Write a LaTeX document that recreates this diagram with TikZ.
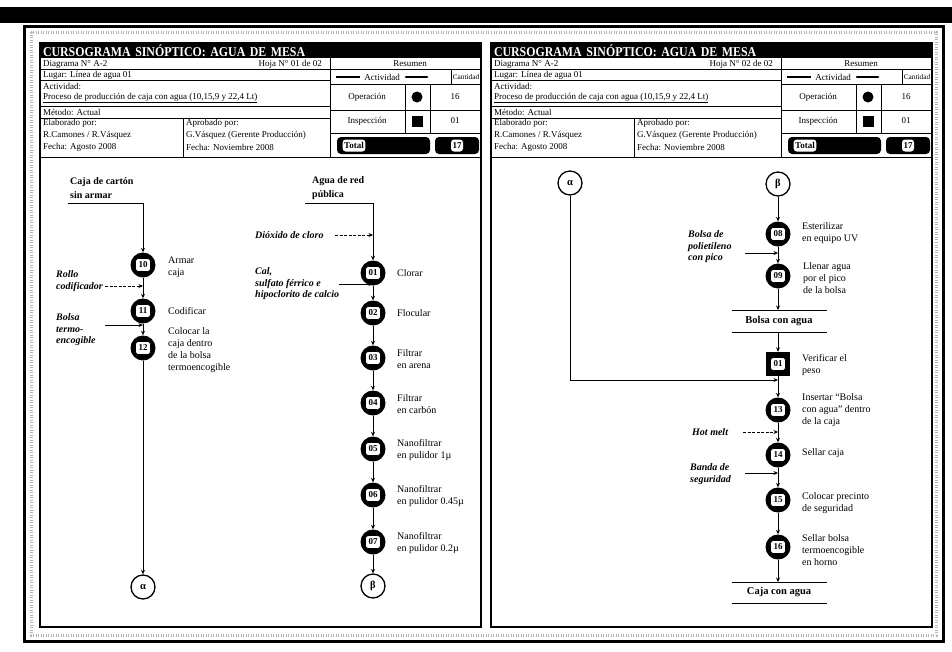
\documentclass[tikz,border=0pt]{standalone}
\usepackage{fontspec}
\setmainfont{Liberation Serif}
\newfontfamily\titlefont[FakeStretch=0.88]{Liberation Serif}
\usetikzlibrary{arrows.meta,calc}

\newcommand{\hdrblock}[1]{%
 \node[titlet] (title) at (40,43) {CURSOGRAMA SINÓPTICO: AGUA DE MESA};
 \draw[hl] (40,69.5) -- (481,69.5);
 \draw[hl] (40,80.5) -- (330,80.5);
 \draw[hl] (330,84) -- (481,84);
 \draw[hl] (40,106) -- (330,106);
 \draw[hl] (330,110) -- (481,110);
 \draw[hl] (40,118) -- (330,118);
 \draw[hl] (330,133) -- (481,133);
 \draw[hl] (40,157) -- (481,157);
 \draw[hl] (330,58) -- (330,157);
 \draw[hl] (183,118) -- (183,157);
 \draw[hl] (405,84) -- (405,133);
 \draw[hl] (430,84) -- (430,133);
 \draw[hl] (451,69.5) -- (451,84);
 \node[hdr] (dg) at (43,64) {Diagrama N° A-2};
 \node[hdr, anchor=east] (hj) at (322,64) {#1};
 \node[hdr, anchor=center] (rs) at (410,64) {Resumen};
 \node[hdr] (lg) at (43,75) {Lugar: Línea de agua 01};
 \node[hdr] (ac) at (43,86) {Actividad:};
 \node[hdr] (pr) at (43,98) {\underline{Proceso de producción de caja con agua (10,15,9 y 22,4 Lt)}};
 \node[hdr] (me) at (43,112) {Método: Actual};
 \node[hdr] (el) at (43,123) {Elaborado por:};
 \node[hdr] (rc) at (43,135) {R.Camones / R.Vásquez};
 \node[hdr] (fa) at (43,147) {Fecha: Agosto 2008};
 \node[hdr] (ap) at (186,123) {Aprobado por:};
 \node[hdr] (gv) at (186,135) {G.Vásquez (Gerente Producción)};
 \node[hdr] (fn) at (186,147) {Fecha: Noviembre 2008};
 \node[hdr, anchor=center] (av) at (382,77) {Actividad};
 \draw[line width=1.2pt] (336,77) -- (360,77);
 \draw[line width=2.5pt, line cap=round] (406,77) -- (427,77);
 \node[hdr, anchor=center, font=\fontsize{7.3}{8}\selectfont] (ct) at (466,77) {Cantidad};
 \node[hdr, anchor=center] (op) at (367,97) {Operación};
 \fill (417,97) circle (5.5pt);
 \node[hdr, anchor=center] (q1) at (455,97) {16};
 \node[hdr, anchor=center] (in) at (367,121) {Inspección};
 \fill (411.5,115.5) rectangle (422.5,126.5);
 \node[hdr, anchor=center] (q2) at (455,121) {01};
 \fill[rounded corners=4pt] (337,137) rectangle (430,154);
 \node[totb] (tt) at (354,145.5) {Total};
 \fill[rounded corners=4pt] (435,137) rectangle (479,154);
 \node[totb] (tn) at (457,145.5) {17};
 \draw[panel] (40,43) rectangle (481,627);
}

\begin{document}
\begin{tikzpicture}[x=1pt,y=-1pt,
 hl/.style={line width=0.8pt},
 panel/.style={line width=2pt},
 titlet/.style={fill=black, text=white, anchor=north west, minimum height=15pt, text height=13.5pt, text depth=1.5pt, text width=435pt, inner xsep=3pt, inner ysep=0pt, outer sep=0pt, align=left, font=\fontsize{13.5}{14}\titlefont\bfseries},
 hdr/.style={inner sep=0pt, anchor=west, font=\fontsize{9}{10}\selectfont},
 totb/.style={fill=white, rounded corners=3pt, inner sep=1.5pt, minimum height=12pt, font=\fontsize{9}{9}\selectfont\bfseries},
 desc/.style={inner sep=0pt, anchor=west, align=left, font=\fontsize{10}{12}\selectfont},
 inlab/.style={inner sep=0pt, anchor=west, align=left, font=\fontsize{10}{11.5}\selectfont\bfseries\itshape},
 boldlab/.style={inner sep=0pt, anchor=west, align=left, font=\fontsize{10}{14}\selectfont\bfseries},
 stlab/.style={inner sep=0pt, anchor=center, font=\fontsize{10.5}{12}\selectfont\bfseries},
 opc/.style={circle, fill=black, minimum size=25pt, inner sep=0pt},
 insq/.style={rectangle, fill=black, minimum size=24pt, inner sep=0pt},
 numb/.style={rectangle, rounded corners=3pt, fill=white, draw=black, line width=0.6pt, minimum width=15pt, minimum height=13pt, inner sep=0pt, font=\fontsize{9}{9}\selectfont\bfseries},
 conn/.style={circle, draw=black, line width=1.3pt, fill=white, minimum size=24pt, inner sep=0pt, font=\fontsize{10.5}{10.5}\selectfont\bfseries},
 arr/.style={line width=0.9pt, -{Stealth[length=4.5pt,width=4pt]}},
 darr/.style={arr, dash pattern=on 3pt off 1.5pt},
 ln/.style={line width=0.9pt}]
\useasboundingbox (0,0) rectangle (952,651);
\fill[white] (0,0) rectangle (952,651);
% outer frame
\fill[black] (0,7) rectangle (952,23);
\draw[line width=3pt] (24,26) rectangle (943,641);
\draw[gray!60, line width=3pt, dash pattern=on 1pt off 1.5pt] (31,32) rectangle (936,635);

% ================= LEFT PANEL =================
\begin{scope}[name prefix=L-]
\hdrblock{Hoja N° 01 de 02}
\end{scope}

% left column
\node[boldlab] (cajaT) at (70,188) {Caja de cartón\\sin armar};
\coordinate (cajaS) at (68,203);
\node[opc] (n10) at (143,265) {}; \node[numb] (t10) at (n10) {10};
\node[opc] (n11) at (143,311) {}; \node[numb] (t11) at (n11) {11};
\node[opc] (n12) at (143,348) {}; \node[numb] (t12) at (n12) {12};
\node[conn] (alphaL) at (143,587) {α};
\draw[arr] (cajaS) -| (n10);
\draw[arr] (n10) -- (n11);
\draw[arr] (n11) -- (n12);
\draw[arr] (n12) -- (alphaL);
\node[desc] (d10) at (168,267) {Armar\\caja};
\node[desc] (d11) at (168,311) {Codificar};
\node[desc] (d12) at (168,350) {Colocar la\\caja dentro\\de la bolsa\\termoencogible};
\node[inlab] (rolloT) at (56,281) {Rollo\\codificador};
\coordinate (rolloS) at (105,286);
\draw[darr] (rolloS) -- (rolloS -| n10);
\node[inlab] (bolsaT) at (56,330) {Bolsa\\termo-\\encogible};
\coordinate (bolsaS) at (105,325);
\draw[arr] (bolsaS) -- (bolsaS -| n12);

% right column
\node[boldlab] (aguaT) at (312,188) {Agua de red\\pública};
\coordinate (aguaS) at (305,203);
\node[opc] (n01) at (373,273) {}; \node[numb] (t01) at (n01) {01};
\node[opc] (n02) at (373,313) {}; \node[numb] (t02) at (n02) {02};
\node[opc] (n03) at (373,358) {}; \node[numb] (t03) at (n03) {03};
\node[opc] (n04) at (373,403) {}; \node[numb] (t04) at (n04) {04};
\node[opc] (n05) at (373,449) {}; \node[numb] (t05) at (n05) {05};
\node[opc] (n06) at (373,495) {}; \node[numb] (t06) at (n06) {06};
\node[opc] (n07) at (373,542) {}; \node[numb] (t07) at (n07) {07};
\node[conn] (betaL) at (373,586) {β};
\draw[arr] (aguaS) -| (n01);
\draw[arr] (n01) -- (n02);
\draw[arr] (n02) -- (n03);
\draw[arr] (n03) -- (n04);
\draw[arr] (n04) -- (n05);
\draw[arr] (n05) -- (n06);
\draw[arr] (n06) -- (n07);
\draw[arr] (n07) -- (betaL);
\node[inlab] (dioxT) at (255,235) {Dióxido de cloro};
\coordinate (dioxS) at (335,235);
\draw[darr] (dioxS) -- (dioxS -| n01);
\node[inlab] (calT) at (255,284) {Cal,\\sulfato férrico e\\hipoclorito de calcio};
\coordinate (calS) at (339,284);
\draw[arr] (calS) -- (calS -| n01);
\node[desc] (d01) at (397,273) {Clorar};
\node[desc] (d02) at (397,313) {Flocular};
\node[desc] (d03) at (397,359) {Filtrar\\en arena};
\node[desc] (d04) at (397,404) {Filtrar\\en carbón};
\node[desc] (d05) at (397,450) {Nanofiltrar\\en pulidor 1µ};
\node[desc] (d06) at (397,496) {Nanofiltrar\\en pulidor 0.45µ};
\node[desc] (d07) at (397,543) {Nanofiltrar\\en pulidor 0.2µ};

% ================= RIGHT PANEL =================
\begin{scope}[xshift=451pt, name prefix=R-]
\hdrblock{Hoja N° 02 de 02}
\end{scope}

\node[conn] (alphaR) at (570,183) {α};
\node[conn] (betaR) at (778,184) {β};
\node[opc] (n08) at (778,234) {}; \node[numb] (t08) at (n08) {08};
\node[opc] (n09) at (778,276) {}; \node[numb] (t09) at (n09) {09};
\draw[arr] (betaR) -- (n08);
\draw[arr] (n08) -- (n09);
\node[desc] (d08) at (802,233) {Esterilizar\\en equipo UV};
\node[desc] (d09) at (803,278) {Llenar agua\\por el pico\\de la bolsa};
\node[inlab] (polT) at (688,247) {Bolsa de\\polietileno\\con pico};
\coordinate (polS) at (745,253);
\draw[arr] (polS) -- (polS -| n08);

% storage 1
\coordinate (s1a) at (732,310); \coordinate (s1b) at (827,310);
\coordinate (s1c) at (732,332); \coordinate (s1d) at (827,332);
\draw[ln] (s1a) -- (s1b);
\draw[ln] (s1c) -- (s1d);
\node[stlab] (bcaT) at (779,321) {Bolsa con agua};
\draw[arr] (n09) -- (n09 |- s1a);

\node[insq] (i01) at (778,364) {}; \node[numb] (ti01) at (i01) {01};
\draw[arr] (n09 |- s1c) -- (i01);
\node[desc] (di01) at (802,365) {Verificar el\\peso};

\coordinate (jn) at (778,380);
\draw[arr] (alphaR) |- (jn);

\node[opc] (n13) at (778,410) {}; \node[numb] (t13) at (n13) {13};
\node[opc] (n14) at (778,455) {}; \node[numb] (t14) at (n14) {14};
\node[opc] (n15) at (778,500) {}; \node[numb] (t15) at (n15) {15};
\node[opc] (n16) at (778,547) {}; \node[numb] (t16) at (n16) {16};
\draw[arr] (i01) -- (n13);
\draw[arr] (n13) -- (n14);
\draw[arr] (n14) -- (n15);
\draw[arr] (n15) -- (n16);
\node[desc] (d13) at (802,410) {Insertar “Bolsa\\con agua” dentro\\de la caja};
\node[desc] (d14) at (802,453) {Sellar caja};
\node[desc] (d15) at (802,503) {Colocar precinto\\de seguridad};
\node[desc] (d16) at (802,550) {Sellar bolsa\\termoencogible\\ en horno};
\node[inlab] (hotT) at (692,432) {Hot melt};
\coordinate (hotS) at (743,432);
\draw[darr] (hotS) -- (hotS -| n13);
\node[inlab] (bandaT) at (690,474) {Banda de\\seguridad};
\coordinate (bandaS) at (745,473);
\draw[arr] (bandaS) -- (bandaS -| n14);

% storage 2
\coordinate (s2a) at (732,582); \coordinate (s2b) at (827,582);
\coordinate (s2c) at (732,603); \coordinate (s2d) at (827,603);
\draw[ln] (s2a) -- (s2b);
\draw[ln] (s2c) -- (s2d);
\node[stlab] (ccaT) at (779,592.5) {Caja con agua};
\draw[arr] (n16) -- (n16 |- s2a);
\end{tikzpicture}
\end{document}
